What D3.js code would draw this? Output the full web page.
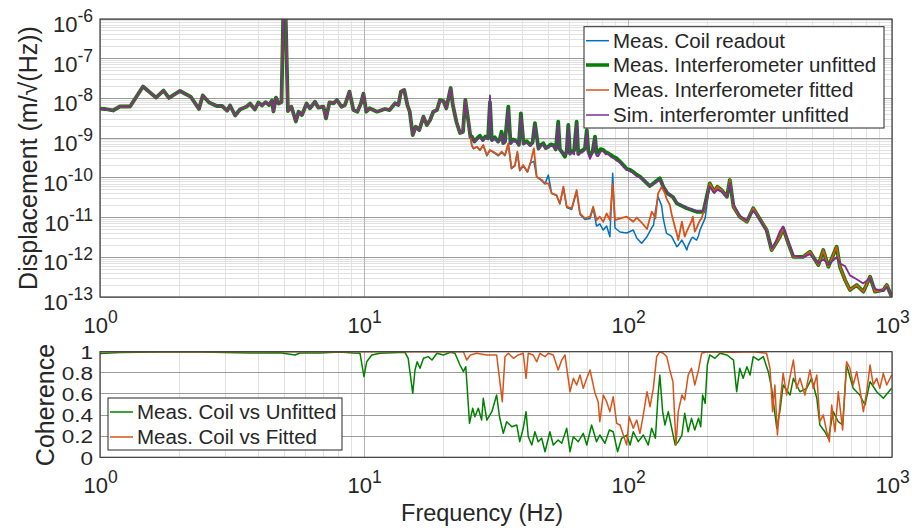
<!DOCTYPE html>
<html>
<head>
<meta charset="utf-8">
<script src="https://cdn.jsdelivr.net/npm/d3@7"></script>
<style>
  body { margin: 0; background: #fff; }
  text { font-family: "Liberation Sans", Arial, Helvetica, sans-serif; fill: #262626; }
</style>
</head>
<body>
<svg id="chart" width="912" height="531"></svg>
<script>
// ---------------- data ----------------
// Displacement spectra in m/sqrt(Hz), pairs of [frequency Hz, value]
// Below ~25 Hz all four traces coincide.
const dispLow = [
  [1.00, 5.57e-9], [1.045, 5.42e-9], [1.12, 4.97e-9], [1.19, 6.27e-9], [1.30, 6.27e-9],
  [1.455, 2.0e-8], [1.63, 1.05e-8], [1.74, 1.58e-8], [1.825, 1.03e-8], [2.01, 1.54e-8],
  [2.21, 1.09e-8], [2.37, 5.42e-9], [2.45, 1.19e-8], [2.59, 7.9e-9], [2.77, 6.45e-9],
  [2.90, 6.45e-9], [3.03, 4.91e-9], [3.11, 6.64e-9], [3.25, 3.72e-9], [3.39, 5.26e-9],
  [3.60, 6.27e-9], [3.70, 7.45e-9], [3.86, 5.26e-9], [3.98, 7.85e-9], [4.11, 6.64e-9],
  [4.24, 8.07e-9], [4.37, 6.83e-9], [4.48, 8.87e-9], [4.54, 4.69e-9], [4.64, 1.05e-8],
  [4.75, 7.45e-9], [4.87, 8.07e-9], [4.95, 2.0e-6], [5.04, 2.0e-6], [5.15, 4.82e-9],
  [5.31, 6.19e-9], [5.52, 2.62e-9], [5.65, 4.63e-9], [5.82, 3.82e-9], [6.06, 7.45e-9],
  [6.24, 5.64e-9], [6.52, 8.26e-9], [6.72, 5.84e-9], [7.02, 6.19e-9], [7.18, 3.15e-9],
  [7.40, 7.98e-9], [7.66, 7.53e-9], [7.90, 9.12e-9], [8.22, 6.19e-9], [8.47, 6.83e-9],
  [8.81, 1.48e-8], [9.12, 5.1e-9], [9.44, 4.63e-9], [9.74, 7.53e-9], [9.95, 1.32e-8],
  [10.2, 4.63e-9], [10.5, 5.64e-9], [11.2, 4.63e-9], [12.0, 5.42e-9], [12.5, 5.1e-9],
  [13.1, 7.53e-9], [13.5, 6.83e-9], [13.8, 1.48e-8], [14.2, 1.63e-8], [14.6, 6.83e-9],
  [14.9, 4.63e-9], [15.3, 1.2e-9], [15.7, 1.94e-9], [16.2, 1.6e-9], [16.8, 3.47e-9],
  [17.3, 2.14e-9], [17.8, 2.86e-9], [18.3, 4.63e-9], [18.9, 5.1e-9], [19.4, 9.12e-9],
  [20.0, 8.6e-9], [20.5, 5.64e-9], [21.3, 1.83e-8], [21.7, 6.83e-9], [22.4, 2.55e-9],
  [23.1, 1.35e-9], [23.7, 1.43e-9], [24.2, 9.12e-9], [24.9, 2.4e-9], [25.3, 1.07e-9]
];

// 25-200 Hz, unfitted interferometer (measured) and simulation
const freqUpper = [25.6, 26.2, 26.8, 27.5, 28.2, 28.8, 29.5, 30.0, 30.5, 31.3,
  32.2, 32.7, 33.2, 33.7, 34.2, 35.2, 35.9, 36.8, 37.9, 38.6,
  39.3, 40.2, 41.3, 42.6, 43.5, 44.4, 45.8, 46.8, 47.8, 48.8,
  49.9, 51.0, 52.1, 53.3, 54.4, 55.2, 56.1, 57.7, 58.6, 59.4,
  60.3, 61.2, 62.5, 63.9, 64.8, 65.8, 67.2, 68.7, 69.8, 70.8,
  71.8, 73.4, 75.0, 76.0, 77.1, 78.8, 80.6, 82.4, 84.2, 86.0,
  87.9, 90.6, 93.3, 96.0, 98.9, 101.8, 104.7, 107.8, 111, 121,
  125, 132, 136, 141, 148, 153, 167, 182, 193];
const dispUnfittedMid = [1.10e-9, 8.2e-10, 9.8e-10, 1.15e-9, 8.97e-10, 1.1e-9, 9.8e-10, 8.0e-9, 8.97e-10, 1.05e-9,
  8.2e-10, 9.5e-10, 1.45e-9, 7.5e-10, 8.2e-10, 6.19e-9, 7.5e-10, 9.2e-10, 8.2e-10, 6.8e-10,
  4.22e-9, 7.3e-10, 8.4e-10, 6.7e-10, 7.8e-10, 2.4e-9, 5.48e-10, 6.8e-10, 7.4e-10, 5.6e-10,
  6.08e-10, 7.0e-10, 6.7e-10, 5.2e-10, 2.6e-9, 5.2e-10, 4.55e-10, 3.4e-10, 4.8e-10, 2.14e-9,
  4.1e-10, 4.55e-10, 4.9e-10, 2.6e-9, 4.0e-10, 4.55e-10, 4.9e-10, 5.55e-10, 1.6e-9, 4.6e-10,
  3.76e-10, 4.5e-10, 1.09e-9, 4.2e-10, 4.55e-10, 5.3e-10, 5.02e-10, 4.4e-10, 4.15e-10, 3.8e-10,
  3.4e-10, 3.1e-10, 2.55e-10, 2.1e-10, 1.67e-10, 1.6e-10, 1.40e-10, 1.2e-10, 1.07e-10, 6.23e-11,
  7.29e-11, 9.73e-11, 5.98e-11, 4.08e-11, 3.29e-11, 2.28e-11, 1.71e-11, 1.40e-11, 1.40e-11];
const dispSimMid = [1.05e-9, 8.0e-10, 9.5e-10, 1.05e-9, 8.5e-10, 1.0e-9, 9.5e-10, 1.2e-8, 8.5e-10, 9.5e-10,
  8.0e-10, 8.8e-10, 1.3e-9, 7.2e-10, 7.8e-10, 5.5e-9, 7.2e-10, 8.5e-10, 7.8e-10, 6.6e-10,
  3.8e-9, 7.0e-10, 7.6e-10, 6.5e-10, 7.4e-10, 2.2e-9, 5.3e-10, 6.2e-10, 7.0e-10, 5.4e-10,
  6.0e-10, 6.4e-10, 6.3e-10, 5.0e-10, 2.4e-9, 4.8e-10, 4.6e-10, 3.8e-10, 4.5e-10, 2.0e-9,
  3.9e-10, 4.3e-10, 3.9e-10, 2.4e-9, 3.8e-10, 4.2e-10, 4.4e-10, 5.0e-10, 1.5e-9, 4.0e-10,
  3.0e-10, 4.2e-10, 1.0e-9, 3.6e-10, 3.5e-10, 4.6e-10, 4.8e-10, 3.9e-10, 4.0e-10, 3.4e-10,
  3.2e-10, 2.7e-10, 2.45e-10, 1.9e-10, 1.6e-10, 1.45e-10, 1.35e-10, 1.1e-10, 1.05e-10, 6.3e-11,
  7.0e-11, 9.0e-11, 6.0e-11, 4.2e-11, 3.3e-11, 2.4e-11, 1.75e-11, 1.45e-11, 1.5e-11];

// 25-200 Hz, fitted interferometer and coil readout
const freqLower = [25.6, 26.0, 26.8, 27.5, 28.3, 29.2, 30.0, 30.9, 32.3, 33.2, 34.2, 35.2, 36.2, 37.3,
  38.1, 38.9, 40.1, 41.6, 42.8, 44.0, 45.1, 47.1, 48.5, 49.9, 51.4, 53.6, 55.2, 56.9, 58.6, 61.2,
  63.9, 65.8, 68.7, 71.8, 73.8, 76.0, 78.2, 80.6, 83.0, 85.4, 87.5, 89.3, 93.3, 98.9, 104.7, 107.9,
  112.6, 118, 123, 125, 127, 130, 134, 136, 138, 140, 144, 146.4, 151, 153, 155, 160, 164, 167,
  169, 174, 176, 179, 182, 185, 187.4, 190, 196];
const dispFittedMid = [6.71e-10, 5.55e-10, 6.08e-10, 5.02e-10, 6.71e-10, 3.76e-10, 5.02e-10, 4.55e-10,
  3.76e-10, 4.55e-10, 3.76e-10, 7.4e-10, 1.74e-10, 2.1e-10, 4.55e-10, 1.58e-10, 2.1e-10, 1.43e-10,
  2.55e-10, 5.55e-10, 1.07e-10, 8.83e-11, 7.28e-11, 7.3e-11, 4.08e-11, 3.7e-11, 2.28e-11, 5.98e-11,
  1.88e-11, 1.71e-11, 4.94e-11, 1.28e-11, 9.57e-12, 1.05e-11, 1.88e-11, 8.67e-12, 1.05e-11, 7.85e-12,
  1.28e-11, 8.67e-12, 7.0e-11, 8.67e-12, 9.57e-12, 1.05e-11, 7.85e-12, 1.0e-11, 7.5e-12, 5.15e-12,
  1.4e-11, 1.2e-11, 9.57e-12, 4.08e-11, 5.87e-11, 5.0e-11, 4.08e-11, 3.0e-11, 2.07e-11, 1.2e-11,
  5.36e-12, 4.0e-12, 2.72e-12, 7.85e-12, 3.3e-12, 4.5e-12, 5.36e-12, 8.0e-12, 1.05e-11, 4.41e-12,
  5.5e-12, 7.16e-12, 8.5e-12, 9.57e-12, 1.84e-11];
const dispCoilMid = [6.5e-10, 5.4e-10, 6.0e-10, 4.9e-10, 6.5e-10, 3.6e-10, 4.9e-10, 4.4e-10,
  3.6e-10, 4.4e-10, 3.6e-10, 7.0e-10, 1.7e-10, 2.0e-10, 4.3e-10, 1.5e-10, 2.0e-10, 1.4e-10,
  2.4e-10, 2.6e-10, 1.05e-10, 8.5e-11, 7.0e-11, 1.18e-10, 4.0e-11, 3.6e-11, 2.2e-11, 5.5e-11,
  1.8e-11, 1.6e-11, 4.5e-11, 1.2e-11, 9.0e-12, 9.5e-12, 1.7e-11, 6.12e-12, 6.89e-12, 4.85e-12,
  6.12e-12, 3.3e-12, 1.3e-10, 5.46e-12, 4.33e-12, 4.08e-12, 4.85e-12, 3.05e-12, 2.25e-12, 3.3e-12,
  5.5e-12, 6.49e-12, 1.5e-11, 3.35e-11, 2.0e-11, 9.57e-12, 6.0e-12, 4.0e-12, 3.6e-12, 3.3e-12,
  2.2e-12, 1.85e-12, 2.0e-12, 2.72e-12, 2.0e-12, 1.52e-12, 2.0e-12, 3.0e-12, 3.2e-12, 2.9e-12,
  2.72e-12, 3.5e-12, 4.85e-12, 6.0e-12, 9.7e-12];

// Above 200 Hz the measured traces run together; the simulation departs slightly
const freqHigh = [204, 212, 218, 226, 237, 243, 251, 265, 282, 298, 312, 335, 350, 360, 376, 387,
  405, 423, 461, 489, 526, 549, 574, 617, 635, 664, 693, 735, 779, 826, 862, 927, 955, 997];
const dispMeasHigh = [7.28e-11, 4.48e-11, 5.98e-11, 4.94e-11, 3.35e-11, 8.83e-11, 1.88e-11, 1.05e-11,
  7.85e-12, 1.71e-11, 1.05e-11, 4.85e-12, 1.52e-12, 2.04e-12, 3.3e-12, 5.36e-12, 2.25e-12, 1.03e-12,
  1.03e-12, 1.38e-12, 6.38e-13, 1.52e-12, 5.78e-13, 1.85e-12, 5.78e-13, 2.68e-13, 1.5e-13, 2.0e-13,
  1.36e-13, 3.25e-13, 1.36e-13, 1.5e-13, 2.0e-13, 1.02e-13];
const dispSimHigh = [6.0e-11, 4.2e-11, 5.0e-11, 4.5e-11, 3.3e-11, 7.5e-11, 2.2e-11, 1.1e-11,
  8.5e-12, 1.5e-11, 1.0e-11, 4.5e-12, 1.7e-12, 2.2e-12, 4.5e-12, 6.0e-12, 2.5e-12, 1.1e-12,
  1.0e-12, 1.2e-12, 7.0e-13, 9.0e-13, 6.5e-13, 1.0e-12, 7.0e-13, 6.0e-13, 3.5e-13, 2.8e-13,
  2.2e-13, 3.0e-13, 1.6e-13, 1.4e-13, 1.8e-13, 1.1e-13];

// Coherence of the coil readout with the two interferometer signals, [frequency Hz, coherence]
const cohUnfitted = [
  [1.0,0.983],[1.19,0.992],[1.69,0.997],[2.39,0.998],[3.70,0.988],[4.80,0.99],[5.48,0.969],[5.72,0.988],
  [6.81,0.988],[8.11,0.997],[9.11,0.988],[9.66,0.985],[10.0,0.763],[10.24,0.905],[10.7,0.969],[11.5,0.985],
  [14.3,0.994],[14.7,0.9375],[15.3,0.606],[15.6,0.827],[15.9,0.905],[16.3,0.843],[16.8,0.9375],[17.5,0.953],
  [18.1,0.921],[18.9,0.985],[20.0,0.969],[21.2,0.994],[22.1,0.985],[23.1,0.874],[23.8,0.811],[24.3,0.858],
  [25.1,0.322],[25.8,0.464],[26.3,0.384],[27.1,0.464],[27.9,0.353],[28.3,0.559],[29.2,0.353],[30.5,0.432],
  [31.8,0.59],[32.6,0.384],[33.7,0.227],[34.7,0.337],[36.3,0.29],[37.9,0.306],[38.9,0.148],[40.1,0.275],
  [41.1,0.432],[41.9,0.195],[43.2,0.116],[44.4,0.242],[45.7,0.148],[47.1,0.18],[48.5,0.053],[50.6,0.242],
  [52.1,0.116],[54.4,0.164],[56.1,0.133],[58.6,0.275],[60.3,0.053],[62.1,0.195],[64.8,0.148],[67.7,0.227],
  [69.8,0.116],[72.8,0.306],[76.0,0.148],[78.2,0.211],[81.8,0.133],[85.0,0.259],[87.9,0.242],[91.3,0.053],
  [94.6,0.18],[98.9,0.211],[101.8,0.116],[104.7,0.242],[109.4,0.148],[114.3,0.211],[119.3,0.116],[122.9,0.275],
  [127,0.18],[130,0.59],[132,0.779],[135.3,0.432],[138,0.306],[142.1,0.432],[146.4,0.275],[151,0.116],
  [155,0.148],[160,0.211],[164,0.417],[169,0.242],[174,0.369],[179,0.259],[185,0.369],[188.6,0.29],
  [191.7,0.59],[196,0.511],[199.7,0.874],[204,0.969],[213.5,0.9375],[223,0.985],[237,0.969],[251,0.921],
  [258,0.621],[265,0.843],[273,0.748],[282,0.858],[290,0.779],[298,0.953],[312,0.921],[325.5,0.953],
  [340,0.811],[350,0.653],[366,0.275],[376,0.432],[387,0.685],[411,0.59],[423,0.748],[448,0.621],
  [475,0.653],[496,0.748],[519,0.559],[533,0.306],[557,0.242],[574,0.18],[599,0.432],[626,0.337],
  [650,0.306],[673,0.874],[713,0.653],[755,0.59],[790,0.495],[826,0.716],[875,0.621],[927,0.559],[997,0.653]
];
const cohFitted = [
  [1,1.0],[3,0.999],[10,0.999],[23.1,1.0],[23.8,1.0],[24.5,0.921],[25.3,0.969],[26.7,0.985],[29.2,0.969],
  [31.8,0.969],[32.6,0.748],[33.4,0.527],[34.2,0.953],[35.2,0.985],[36.8,0.9375],[38.4,0.969],[40.1,0.985],
  [41.1,0.748],[41.9,0.985],[43.7,0.969],[45.1,0.905],[46.4,0.985],[48.5,0.953],[49.9,0.985],[52.1,0.969],
  [54.4,0.827],[56.1,0.921],[57.7,0.969],[60.3,0.621],[62.1,0.748],[63.9,0.685],[65.8,0.779],[67.7,0.653],
  [69.8,0.748],[71.8,0.827],[75.0,0.606],[77.1,0.527],[78.2,0.337],[80.6,0.59],[83.0,0.527],[85.4,0.432],
  [87.9,0.574],[90.6,0.322],[93.3,0.306],[96.0,0.211],[98.9,0.116],[101,0.384],[104.7,0.275],[107.9,0.353],
  [111,0.227],[114.3,0.401],[118,0.621],[121.2,0.479],[124.7,0.653],[128.4,0.953],[132,1.0],[136,0.985],
  [140.2,0.953],[144,0.827],[148,0.716],[152,0.116],[155,0.432],[160,0.59],[164,0.543],[169,0.779],
  [174,0.843],[179,0.685],[185,0.827],[190,0.985],[198.5,1.0],[250,0.995],[300,1.0],[335,0.985],
  [345,0.843],[353,0.432],[360,0.685],[368,0.211],[376,0.495],[387,0.795],[399,0.59],[411,0.763],
  [423,0.921],[435,0.653],[448,0.748],[468,0.59],[489,0.827],[503,0.653],[519,0.779],[533,0.337],
  [549,0.401],[566,0.242],[579,0.148],[591,0.495],[608,0.242],[626,0.621],[650,0.259],[673,0.905],
  [693,0.843],[713,0.685],[735,0.811],[755,0.653],[779,0.432],[802,0.621],[826,0.874],[849,0.685],
  [875,0.748],[899,0.653],[927,0.795],[955,0.685],[997,0.779]
];

// Axis ticks and labels
const xTickValues = [1, 10, 100, 1000];
const xTickExponents = ["0", "1", "2", "3"];
const yTickValues = [1e-13, 1e-12, 1e-11, 1e-10, 1e-9, 1e-8, 1e-7, 1e-6];
const yTickExponents = ["-13", "-12", "-11", "-10", "-9", "-8", "-7", "-6"];
const cohTickValues = [0, 0.2, 0.4, 0.6, 0.8, 1];
const cohTickLabels = ["0", "0.2", "0.4", "0.6", "0.8", "1"];

const dispLegend = ["Meas. Coil readout", "Meas. Interferometer unfitted", "Meas. Interferometer fitted", "Sim. interferomter unfitted"];
const cohLegend = ["Meas. Coil vs Unfitted", "Meas. Coil vs Fitted"];

// ---------------- series assembly ----------------
const zipPairs = (f, v) => f.map((d, i) => [d, v[i]]);
const seriesCoil = dispLow.concat(zipPairs(freqLower, dispCoilMid), zipPairs(freqHigh, dispMeasHigh));
const seriesUnfitted = dispLow.concat(zipPairs(freqUpper, dispUnfittedMid), zipPairs(freqHigh, dispMeasHigh));
const seriesFitted = dispLow.concat(zipPairs(freqLower, dispFittedMid), zipPairs(freqHigh, dispMeasHigh));
const seriesSim = dispLow.concat(zipPairs(freqUpper, dispSimMid), zipPairs(freqHigh, dispSimHigh));

// ---------------- layout ----------------
const svg = d3.select("#chart");
const L = 100, R = 892;
const top1 = 19, bot1 = 297;
const top2 = 351.7, bot2 = 457.3;

const COL = { blue: "#0072BD", green: "#008000", orange: "#D95319", purple: "#7E2F8E" };

const x = d3.scaleLog().domain([1, 1000]).range([L, R]);
const yD = d3.scaleLog().domain([1e-13, 1e-6]).range([bot1, top1]);
const yC = d3.scaleLinear().domain([0, 1]).range([bot2, top2]);

const minorX = [];
[1, 10, 100].forEach(dec => { for (let m = 2; m <= 9; m++) minorX.push(m * dec); });
const minorY = [];
for (let e = -13; e <= -7; e++) for (let m = 2; m <= 9; m++) minorY.push(m * Math.pow(10, e));

const defs = svg.append("defs");
defs.append("clipPath").attr("id", "clipTop").append("rect")
  .attr("x", L).attr("y", top1).attr("width", R - L).attr("height", bot1 - top1);
defs.append("clipPath").attr("id", "clipBot").append("rect")
  .attr("x", L).attr("y", top2).attr("width", R - L).attr("height", bot2 - top2);

// ---------------- grids ----------------
function vGrid(g, vals, y0, y1, color) {
  g.selectAll(null).data(vals).enter().append("line")
    .attr("x1", d => x(d)).attr("x2", d => x(d)).attr("y1", y0).attr("y2", y1)
    .attr("stroke", color).attr("stroke-width", 1);
}
function hGrid(g, scale, vals, color) {
  g.selectAll(null).data(vals).enter().append("line")
    .attr("x1", L).attr("x2", R).attr("y1", d => scale(d)).attr("y2", d => scale(d))
    .attr("stroke", color).attr("stroke-width", 1);
}
const grid = svg.append("g").attr("shape-rendering", "crispEdges");
// top panel
vGrid(grid, minorX, top1, bot1, "#e1e1e1");
hGrid(grid, yD, minorY, "#e1e1e1");
vGrid(grid, xTickValues, top1, bot1, "#b4b4b4");
hGrid(grid, yD, yTickValues, "#9a9a9a");
// bottom panel
vGrid(grid, minorX, top2, bot2, "#e1e1e1");
vGrid(grid, xTickValues, top2, bot2, "#b4b4b4");
hGrid(grid, yC, cohTickValues, "#9a9a9a");

// ---------------- traces ----------------
const lineD = d3.line().x(d => x(d[0])).y(d => yD(d[1]));
const lineC = d3.line().x(d => x(d[0])).y(d => yC(d[1]));

const gTop = svg.append("g").attr("clip-path", "url(#clipTop)");
[
  [seriesCoil, COL.blue, 1.5],
  [seriesUnfitted, COL.green, 3.8],
  [seriesFitted, COL.orange, 1.8],
  [seriesSim, COL.purple, 1.8]
].forEach(([data, color, w]) => {
  gTop.append("path").datum(data).attr("d", lineD)
    .attr("fill", "none").attr("stroke", color).attr("stroke-width", w)
    .attr("stroke-linejoin", "round");
});

const gBot = svg.append("g").attr("clip-path", "url(#clipBot)");
[
  [cohUnfitted, COL.green, 1.5],
  [cohFitted, COL.orange, 1.5]
].forEach(([data, color, w]) => {
  gBot.append("path").datum(data).attr("d", lineC)
    .attr("fill", "none").attr("stroke", color).attr("stroke-width", w)
    .attr("stroke-linejoin", "round");
});

// ---------------- axes ----------------
function powLabel(sel, exps) {
  sel.each(function (d, i) {
    const t = d3.select(this);
    t.text(null);
    t.append("tspan").text("10");
    t.append("tspan").attr("dy", -10).attr("font-size", 17.5).text(exps[i]);
  });
}

// top panel y axis
const ayD = svg.append("g").attr("transform", `translate(${L},0)`)
  .call(d3.axisLeft(yD).tickValues(yTickValues).tickSize(0).tickPadding(7));
ayD.select(".domain").remove();
ayD.selectAll(".tick text").attr("dy", null).attr("y", 12.5)
  .attr("font-size", 22).attr("font-family", null).attr("fill", "#262626")
  .call(powLabel, yTickExponents);

// top panel x axis
const axD = svg.append("g").attr("transform", `translate(0,${bot1})`)
  .call(d3.axisBottom(x).tickValues(xTickValues).tickSize(0).tickPadding(0));
axD.select(".domain").remove();
axD.selectAll(".tick text").attr("dy", null).attr("y", 36)
  .attr("font-size", 22).attr("font-family", null).attr("fill", "#262626")
  .call(powLabel, xTickExponents);

// bottom panel y axis: compact, slightly widened numerals so neighbours stay apart
const cohStretch = 1.2;
const ayC = svg.append("g").attr("transform", `translate(${L},0)`)
  .call(d3.axisLeft(yC).tickValues(cohTickValues).tickSize(0).tickPadding(7)
    .tickFormat((d, i) => cohTickLabels[i]));
ayC.select(".domain").remove();
ayC.selectAll(".tick text")
  .attr("x", -7 / cohStretch).attr("dy", "0.36em")
  .attr("transform", `scale(${cohStretch},1)`)
  .attr("font-size", 18.8).attr("font-family", null).attr("fill", "#262626");

// bottom panel x axis
const axC = svg.append("g").attr("transform", `translate(0,${bot2})`)
  .call(d3.axisBottom(x).tickValues(xTickValues).tickSize(0).tickPadding(0));
axC.select(".domain").remove();
axC.selectAll(".tick text").attr("dy", null).attr("y", 36)
  .attr("font-size", 22).attr("font-family", null).attr("fill", "#262626")
  .call(powLabel, xTickExponents);

// axes boxes
[[top1, bot1], [top2, bot2]].forEach(([t, b]) => {
  svg.append("rect").attr("x", L).attr("y", t).attr("width", R - L).attr("height", b - t)
    .attr("fill", "none").attr("stroke", "#404040").attr("stroke-width", 1.2);
});

// axis titles
svg.append("text").attr("transform", "translate(37,158) rotate(-90)")
  .attr("text-anchor", "middle").attr("font-size", 25).text("Displacement (m/\u221A(Hz))");
svg.append("text").attr("transform", "translate(54,405) rotate(-90)")
  .attr("text-anchor", "middle").attr("font-size", 25).text("Coherence");
svg.append("text").attr("x", 482).attr("y", 520.5)
  .attr("text-anchor", "middle").attr("font-size", 23.5).text("Frequency (Hz)");

// ---------------- legends ----------------
function legend(x0, y0, w, h, rowY, entries) {
  const g = svg.append("g");
  g.append("rect").attr("x", x0).attr("y", y0).attr("width", w).attr("height", h)
    .attr("fill", "#fff").attr("stroke", "#262626").attr("stroke-width", 1);
  entries.forEach((e, i) => {
    const yy = rowY[i];
    g.append("line").attr("x1", x0 + 2).attr("x2", x0 + 25).attr("y1", yy).attr("y2", yy)
      .attr("stroke", e.color).attr("stroke-width", e.w);
    g.append("text").attr("x", x0 + 29).attr("y", yy + 7).attr("font-size", 20.5).text(e.label);
  });
}
legend(584, 26.7, 300, 101.3, [40.7, 65, 90, 115], [
  { label: dispLegend[0], color: COL.blue, w: 1.5 },
  { label: dispLegend[1], color: COL.green, w: 3.5 },
  { label: dispLegend[2], color: COL.orange, w: 1.5 },
  { label: dispLegend[3], color: COL.purple, w: 1.5 }
]);
legend(108, 398, 234, 52, [412, 437], [
  { label: cohLegend[0], color: COL.green, w: 1.5 },
  { label: cohLegend[1], color: COL.orange, w: 1.5 }
]);
</script>
</body>
</html>
